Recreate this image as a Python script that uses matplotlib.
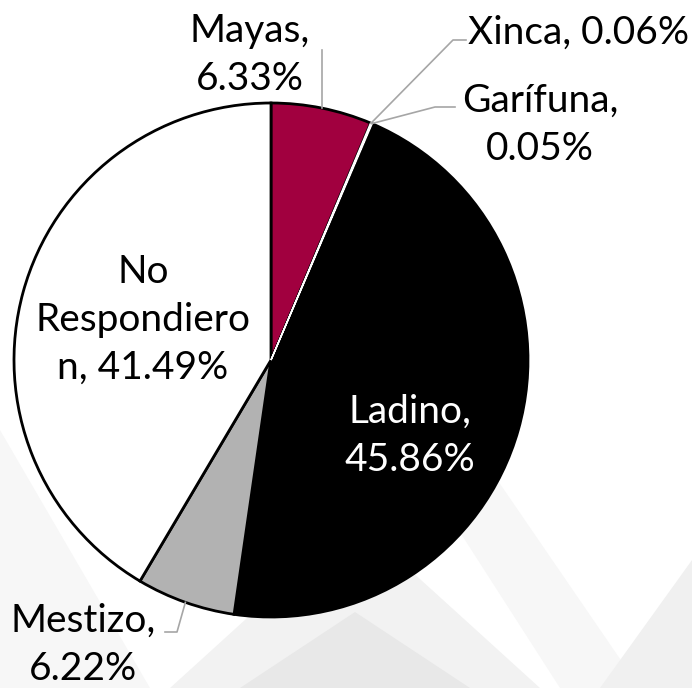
#pie chart of ethnic self-identification, excel style
import numpy as np
import matplotlib.pyplot as plt
from matplotlib.patches import Polygon

plt.rcParams['font.family'] = ['Lato', 'DejaVu Sans']

#data
groups = ["Mayas", "Xinca", "Garífuna", "Ladino", "Mestizo", "No Respondieron"]
shares = [6.33, 0.06, 0.05, 45.86, 6.22, 41.49]
labels = ["Mayas,\n6.33%", "Xinca, 0.06%", "Garífuna,\n0.05%", "Ladino,\n45.86%",
          "Mestizo,\n6.22%", "No\nRespondiero\nn, 41.49%"]
colors = ["#A1003F", "#FFFFFF", "#FFFFFF", "#000000", "#B2B2B2", "#FFFFFF"]

W, H = 692, 688
fig = plt.figure(figsize=(W / 100, H / 100), dpi=100)
ax = fig.add_axes([0, 0, 1, 1])
ax.set_aspect("equal")

#faint watermark shapes in the background
bg = [
    ([(0, 430), (150, 688), (0, 688)], "#f7f7f7"),
    ([(170, 688), (355, 520), (540, 688)], "#f2f2f2"),
    ([(240, 688), (355, 612), (470, 688)], "#e8e8e8"),
    ([(420, 470), (470, 440), (640, 688), (560, 688)], "#f7f7f7"),
    ([(600, 688), (692, 560), (692, 688)], "#f0f0f0"),
]
for pts, c in bg:
    ax.add_patch(Polygon([(x, H - y) for x, y in pts], closed=True, fc=c, ec="none", zorder=0))

cx, cy, r = 271, H - 360, 257
wedges, _ = ax.pie(shares, colors=colors, startangle=90, counterclock=False,
                   center=(cx, cy), radius=r, frame=True,
                   wedgeprops=dict(edgecolor="black", linewidth=2))
ax.set_xlim(0, W)
ax.set_ylim(0, H)
ax.axis("off")
#the two tiny slices show as a thin white line
for i in (1, 2):
    wedges[i].set_edgecolor("white")
    wedges[i].set_linewidth(1)
    wedges[i].set_zorder(5)

#mid angles of each slice (degrees clockwise from top)
cum = np.cumsum([0] + shares)
mids = (cum[:-1] + cum[1:]) / 2 / sum(shares) * 360
def edge_point(i):
    a = np.radians(mids[i])
    return cx + r * np.sin(a), cy + r * np.cos(a)

fs = 28
def lab(x, y, s, **kw):
    ax.text(x, H - y, s, fontsize=fs, ha="center", va="center", linespacing=1.4, zorder=6, **kw)

lab(250, 55, labels[0])
ax.text(468, H - 33, labels[1], fontsize=fs, ha="left", va="center", zorder=6)
lab(540, 125, labels[2])
lab(410, 436, labels[3], color="white")
lab(83, 645, labels[4])
lab(143, 320, labels[5])

#leader lines
lc = "#a6a6a6"
x0, y0 = edge_point(0)
ax.plot([x0, x0], [y0, H - 50], color=lc, lw=1.2, zorder=6)
x1, y1 = edge_point(1)
ax.plot([x1, 453, 466], [y1, H - 40, H - 40], color=lc, lw=1.2, zorder=6)
x2, y2 = edge_point(2)
ax.plot([x2, 435, 455], [y2, H - 107, H - 107], color=lc, lw=1.2, zorder=6)
x4, y4 = edge_point(4)
ax.plot([x4, 177, 165], [y4, H - 632, H - 632], color=lc, lw=1.2, zorder=6)

fig.savefig("out.png", dpi=100, facecolor="white")
